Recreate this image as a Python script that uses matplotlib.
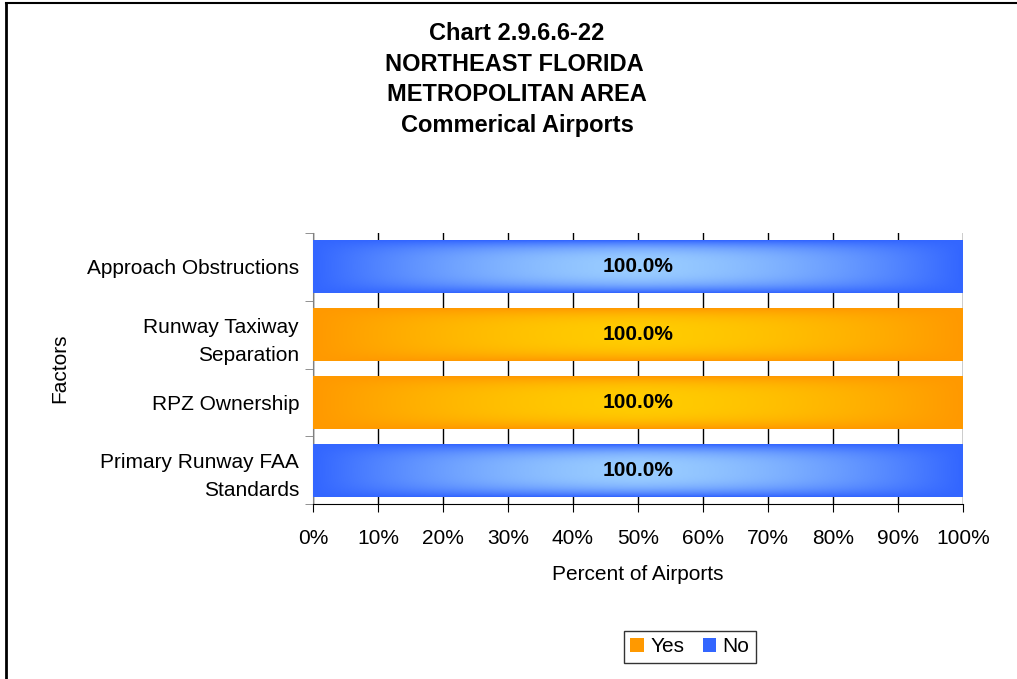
import numpy as np
import matplotlib.pyplot as plt
from matplotlib.colors import LinearSegmentedColormap
from matplotlib.lines import Line2D
from matplotlib.patches import Patch

plt.rcParams['font.family'] = ['Liberation Sans', 'DejaVu Sans']

factors = ['Primary Runway FAA\nStandards', 'RPZ Ownership',
           'Runway Taxiway\nSeparation', 'Approach Obstructions']
yes_pct = [0.0, 100.0, 100.0, 0.0]
no_pct = [100.0, 0.0, 0.0, 100.0]
series = ['Yes', 'No']
xticks = [0, 10, 20, 30, 40, 50, 60, 70, 80, 90, 100]

dark = {'Yes': '#FF9900', 'No': '#3366FF'}
light = {'Yes': '#FFCC00', 'No': '#99CCFF'}


def shade(ax, bars, name):
    # glow: dark at ends and edges, light in the middle
    nx, ny = 300, 60
    du = np.abs(np.linspace(-1, 1, nx))
    dv = np.abs(np.linspace(-1, 1, ny))
    t = np.outer(1 - dv ** 3, 1 - du ** 1.6)
    cmap = LinearSegmentedColormap.from_list(name, [dark[name], light[name]])
    for b in bars:
        if b.get_width() <= 0:
            continue
        x0, y0 = b.get_x(), b.get_y()
        im = ax.imshow(t, cmap=cmap, vmin=0, vmax=1, aspect='auto',
                       extent=(x0, x0 + b.get_width(), y0, y0 + b.get_height()),
                       origin='lower', zorder=3, interpolation='bilinear')
        im.set_clip_path(b)


fig = plt.figure(figsize=(10.17, 6.79), dpi=100)
ax = fig.add_axes([313 / 1017, 1 - 504 / 679, 650 / 1017, 271 / 679])

y = np.arange(len(factors))
h = 0.78
b_yes = ax.barh(y, yes_pct, height=h, color=dark['Yes'], zorder=2)
b_no = ax.barh(y, no_pct, left=yes_pct, height=h, color=dark['No'], zorder=2)
shade(ax, b_yes, 'Yes')
shade(ax, b_no, 'No')

for i in y:
    for left, val in ((0, yes_pct[i]), (yes_pct[i], no_pct[i])):
        if val > 0:
            ax.text(left + val / 2, i, f'{val:.1f}%', ha='center', va='center',
                    fontsize=15, fontweight='bold', zorder=5)

ax.set_xlim(0, 100)
ax.set_ylim(-0.5, len(factors) - 0.5)
ax.set_xticks(xticks)
ax.set_xticklabels([f'{v}%' for v in xticks], fontsize=15)
ax.set_yticks(y)
ax.set_yticklabels(factors, fontsize=15, linespacing=1.6)
ax.set_yticks(np.arange(len(factors) + 1) - 0.5, minor=True)
ax.tick_params(axis='y', which='major', length=0, pad=10)
ax.tick_params(axis='y', which='minor', length=6, direction='out', color='#808080')
ax.tick_params(axis='x', length=6, direction='out', pad=12)
ax.grid(axis='x', color='black', linewidth=1, zorder=1)
ax.set_axisbelow(True)
for s in ('top', 'right'):
    ax.spines[s].set_visible(False)
ax.spines['left'].set_color('#808080')
ax.spines['bottom'].set_color('black')

ax.set_xlabel('Percent of Airports', fontsize=15, labelpad=12)
ax.set_ylabel('Factors', fontsize=15, labelpad=13)

fig.text(517 / 1017, 1 - 22 / 679,
         'Chart 2.9.6.6-22\nNORTHEAST FLORIDA \nMETROPOLITAN AREA\nCommerical Airports',
         ha='center', va='top', fontsize=17, fontweight='bold', linespacing=1.42)

handles = [Patch(facecolor=dark[s], edgecolor='none') for s in series]
leg = fig.legend(handles, series, loc='center', bbox_to_anchor=(690 / 1017, 1 - 647 / 679),
                 ncol=2, fontsize=15, frameon=True, fancybox=False, handlelength=0.65,
                 handleheight=0.65, handletextpad=0.3, columnspacing=0.9, borderpad=0.3)
leg.get_frame().set_edgecolor('black')
leg.get_frame().set_linewidth(1)

# chart area border (left and top edges visible)
fig.add_artist(Line2D([6 / 1017, 6 / 1017], [0, 1 - 3 / 679], color='black', lw=2))
fig.add_artist(Line2D([6 / 1017, 1], [1 - 3 / 679, 1 - 3 / 679], color='black', lw=1.5))

fig.savefig('out.png', dpi=100)
